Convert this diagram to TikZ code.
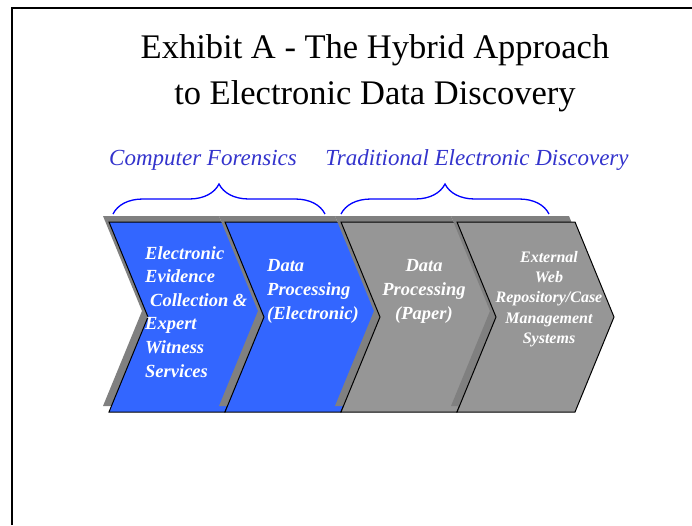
\documentclass[tikz,border=0pt]{standalone}
\usepackage{fontspec}
\setmainfont{Liberation Serif}
\usetikzlibrary{decorations.pathreplacing}
\definecolor{chevblue}{RGB}{51,102,255}
\definecolor{chevgray}{RGB}{150,150,150}
\definecolor{shadowgray}{RGB}{128,128,128}
\definecolor{labelblue}{RGB}{51,51,204}

\begin{document}
\begin{tikzpicture}[x=1pt, y=-1pt,
    shadow/.style={fill=shadowgray, shift={(-6,-6)}},
    chev/.style={draw=black, line width=1pt},
    chevtext/.style={text=white, inner sep=0pt, font=\fontsize{18.5}{23.6}\selectfont\bfseries\itshape},
    grouplabel/.style={text=labelblue, inner sep=0pt, anchor=base, font=\fontsize{23}{27}\selectfont\itshape},
    groupbrace/.style={draw=blue, line width=1.3pt, decorate, decoration={brace, amplitude=30pt}}]
      \useasboundingbox (0,0) rectangle (692,525);

      % slide frame
      \draw[line width=2.5pt] (12,525) -- (12,8) -- (692,8);

      \node[anchor=north, align=center, inner sep=0pt, font=\fontsize{34.5}{46}\selectfont] (title) at (375,34.5)
        {Exhibit A - The Hybrid Approach\\to Electronic Data Discovery};

      % chevrons, each one with its shadow first
      \fill[shadow] (109,222) -- (225,222) -- (264,317) -- (225,412) -- (109,412) -- (148,317) -- cycle;
      \filldraw[chev, fill=chevblue] (109,222) -- (225,222) -- (264,317) -- (225,412) -- (109,412) -- (148,317) -- cycle;
      \fill[shadow] (225,222) -- (341,222) -- (380,317) -- (341,412) -- (225,412) -- (264,317) -- cycle;
      \filldraw[chev, fill=chevblue] (225,222) -- (341,222) -- (380,317) -- (341,412) -- (225,412) -- (264,317) -- cycle;
      \fill[shadow] (341,222) -- (457,222) -- (496,317) -- (457,412) -- (341,412) -- (380,317) -- cycle;
      \filldraw[chev, fill=chevgray] (341,222) -- (457,222) -- (496,317) -- (457,412) -- (341,412) -- (380,317) -- cycle;
      \fill[shadow] (457,222) -- (575,222) -- (614,317) -- (575,412) -- (457,412) -- (496,317) -- cycle;
      \filldraw[chev, fill=chevgray] (457,222) -- (575,222) -- (614,317) -- (575,412) -- (457,412) -- (496,317) -- cycle;

      \node[chevtext, anchor=north west, align=left] (collect) at (145,246)
        {Electronic\\Evidence\\\hspace*{5pt}Collection \&\\Expert\\Witness\\Services};
      \node[chevtext, anchor=north west, align=left] (elecproc) at (267,259.5)
        {Data\\Processing\\(Electronic)};
      \node[chevtext, anchor=north, align=center] (paperproc) at (424,259.5)
        {Data\\Processing\\(Paper)};
      \node[chevtext, anchor=north, align=center, font=\fontsize{16}{20.3}\selectfont\bfseries\itshape] (webrepo) at (549,251)
        {External\\Web\\Repository/Case\\Management\\Systems};

      % group braces and their labels
      \coordinate (forL) at (113,214);
      \coordinate (forR) at (325,214);
      \coordinate (tedL) at (341,214);
      \coordinate (tedR) at (549,214);
      \draw[groupbrace] (forL) -- (forR);
      \draw[groupbrace] (tedL) -- (tedR);
      \node[grouplabel] (forensics) at (203,165) {Computer Forensics};
      \node[grouplabel] (traditional) at (477,165) {Traditional Electronic Discovery};
    \end{tikzpicture}
\end{document}
